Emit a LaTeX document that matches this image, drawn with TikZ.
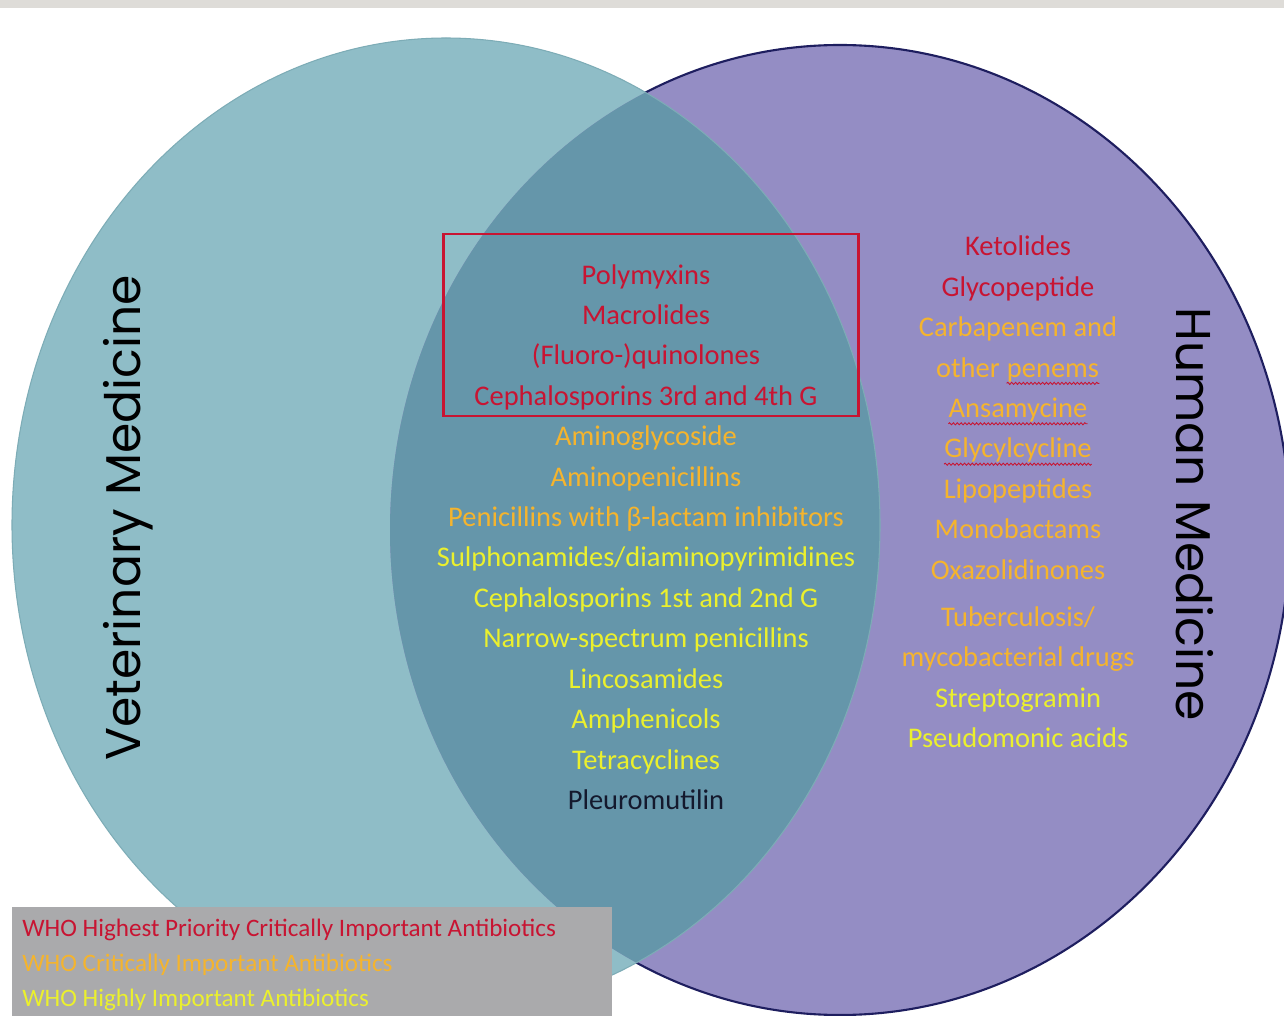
\documentclass[tikz,border=0pt]{standalone}
\usepackage{fontspec}
\setmainfont{Carlito}
\newfontfamily\labelfont{Poppins}
\definecolor{vetteal}{RGB}{143,189,199}
\definecolor{humviolet}{RGB}{148,141,196}
\definecolor{overlapblue}{RGB}{101,150,170}
\definecolor{rimnavy}{RGB}{30,30,95}
\definecolor{rimteal}{RGB}{125,172,182}
\definecolor{whored}{RGB}{200,20,50}
\definecolor{whogold}{RGB}{245,180,45}
\definecolor{whoyellow}{RGB}{235,240,45}
\definecolor{keygray}{RGB}{170,170,172}
\definecolor{topgray}{RGB}{222,220,216}
\definecolor{darknavy}{RGB}{20,25,45}
\usetikzlibrary{positioning, decorations.pathmorphing}

\tikzset{
  drugs/.style={align=center, inner sep=0pt, font=\fontsize{16.2}{23}\selectfont},
  sidelabel/.style={font=\labelfont\fontsize{27.8}{32}\selectfont, text=black},
  keyline/.style={anchor=west, inner sep=0pt, font=\fontsize{14.3}{17}\selectfont}
}
% one macro per WHO category
\newcommand{\hp}[1]{\textcolor{whored}{#1}}
\newcommand{\ci}[1]{\textcolor{whogold}{#1}}
\newcommand{\hi}[1]{\textcolor{whoyellow}{#1}}
\newcommand{\squiggle}[1]{\tikz[baseline=(w.base)]{\node[inner sep=0pt] (w) {#1};
  \draw[whored, line width=0.5pt, decorate, decoration={snake, amplitude=0.6pt, segment length=2.2pt}]
    ([yshift=-0.8pt]w.south west) -- ([yshift=-0.8pt]w.south east);}}

\begin{document}
\begin{tikzpicture}[x=0.02cm, y=-0.02cm]
  \useasboundingbox (0,0) rectangle (1284,1016);
  \fill[white] (0,0) rectangle (1284,1016);
  \fill[topgray] (0,0) rectangle (1284,8);

  % the two sets
  \fill[vetteal] (446,525) ellipse [x radius=434, y radius=487];
  \fill[humviolet] (840,530) ellipse [x radius=450, y radius=485];
  \begin{scope}
    \clip (840,530) ellipse [x radius=450, y radius=485];
    \fill[overlapblue] (446,525) ellipse [x radius=434, y radius=487];
  \end{scope}
  \begin{scope}[even odd rule]
    \clip (0,0) rectangle (1284,1016) (446,525) ellipse [x radius=434, y radius=487];
    \draw[rimnavy, line width=1.2pt] (840,530) ellipse [x radius=450, y radius=485];
  \end{scope}
  \draw[rimteal, line width=0.6pt] (446,525) ellipse [x radius=434, y radius=487];

  % set names
  \node[sidelabel, rotate=90] (vetlabel) at (128,518) {Veterinary Medicine};
  \node[sidelabel, rotate=-90] (humlabel) at (1195,514) {Human Medicine};

  % shared classes
  \node[drugs] (shared) at (646,537) {
    \hp{Polymyxins}\\
    \hp{Macrolides}\\
    \hp{(Fluoro-)quinolones}\\
    \hp{Cephalosporins 3rd and 4th G}\\
    \ci{Aminoglycoside}\\
    \ci{Aminopenicillins}\\
    \ci{Penicillins with β-lactam inhibitors}\\
    \hi{Sulphonamides/diaminopyrimidines}\\
    \hi{Cephalosporins 1st and 2nd G}\\
    \hi{Narrow-spectrum penicillins}\\
    \hi{Lincosamides}\\
    \hi{Amphenicols}\\
    \hi{Tetracyclines}\\
    \textcolor{darknavy}{Pleuromutilin}
  };
  \draw[whored, line width=1.7pt] (443,234) rectangle (858,416);

  % human only classes
  \node[drugs] (humanonly) at (1018,492) {
    \hp{Ketolides}\\
    \hp{Glycopeptide}\\
    \ci{Carbapenem and}\\
    \ci{other \squiggle{penems}}\\
    \ci{\squiggle{Ansamycine}}\\
    \ci{\squiggle{Glycylcycline}}\\
    \ci{Lipopeptides}\\
    \ci{Monobactams}\\
    \ci{Oxazolidinones}\\[4pt]
    \ci{Tuberculosis/}\\
    \ci{mycobacterial drugs}\\
    \hi{Streptogramin}\\
    \hi{Pseudomonic acids}
  };

  % key
  \fill[keygray] (12,907) rectangle (612,1016);
  \node[keyline, text=whored] (keyhigh) at (22,930) {WHO Highest Priority Critically Important Antibiotics};
  \node[keyline, text=whogold] (keycrit) at (22,965) {WHO Critically Important Antibiotics};
  \node[keyline, text=whoyellow] (keyimp) at (22,1000) {WHO Highly Important Antibiotics};
\end{tikzpicture}
\end{document}
